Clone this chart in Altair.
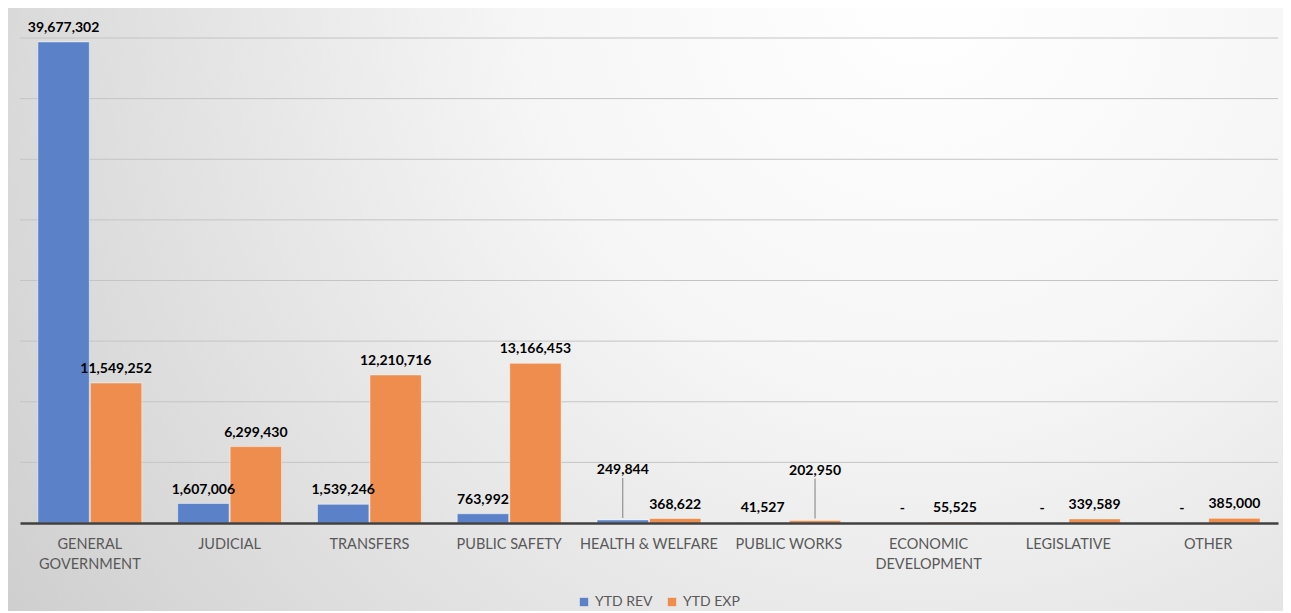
import altair as alt
import pandas as pd

categories = ["GENERAL GOVERNMENT", "JUDICIAL", "TRANSFERS", "PUBLIC SAFETY",
              "HEALTH & WELFARE", "PUBLIC WORKS", "ECONOMIC DEVELOPMENT",
              "LEGISLATIVE", "OTHER"]
ytd_rev = [39677302, 1607006, 1539246, 763992, 249844, 41527, 0, 0, 0]
ytd_exp = [11549252, 6299430, 12210716, 13166453, 368622, 202950, 55525, 339589, 385000]
series_names = ["YTD REV", "YTD EXP"]
series_colors = ["#5b82c9", "#ee8d4d"]
grid_values = [5000000, 10000000, 15000000, 20000000, 25000000, 30000000, 35000000, 40000000]

# labels placed higher with a leader line (as in the original)
LEADER = [("HEALTH & WELFARE", "YTD REV"), ("PUBLIC WORKS", "YTD EXP")]

rows = []
for c, r, e in zip(categories, ytd_rev, ytd_exp):
    rows.append({"category": c, "series": "YTD REV", "value": r})
    rows.append({"category": c, "series": "YTD EXP", "value": e})
df = pd.DataFrame(rows)
df["lifted"] = [(c, s) in LEADER for c, s in zip(df["category"], df["series"])]
grid_df = pd.DataFrame({"value": grid_values})

W, H = 1258, 485
PAD = {"left": 12, "top": 30, "right": 5, "bottom": 88}

bg = alt.Chart(alt.Data(values=[{"a": 1}])).mark_rect(
    color={
        "gradient": "radial",
        "x1": 0.72, "y1": 0.25, "r1": 0,
        "x2": 0.72, "y2": 0.25, "r2": 1.05,
        "stops": [
            {"offset": 0, "color": "#ffffff"},
            {"offset": 0.3, "color": "#f6f6f6"},
            {"offset": 1, "color": "#c2c2c2"},
        ],
    }
).encode(
    x=alt.value(-PAD["left"]), x2=alt.value(W + PAD["right"]),
    y=alt.value(-PAD["top"]), y2=alt.value(H + PAD["bottom"])
)

y_scale = alt.Scale(domain=[0, 40000000], nice=False)

grid = alt.Chart(grid_df).mark_rule(color="#c4c4c4", strokeWidth=1).encode(
    y=alt.Y("value:Q", scale=y_scale, axis=None),
    x=alt.value(0), x2=alt.value(W),
)

x_enc = alt.X(
    "category:N", sort=categories, title=None,
    scale=alt.Scale(paddingInner=0.257, paddingOuter=0.128),
    axis=alt.Axis(
        labelAngle=0, ticks=False, domainColor="#404040", domainWidth=2.5,
        labelColor="#595959", labelFontSize=14.5, labelFont="Lato",
        labelPadding=14, labelLineHeight=20, zindex=1,
        labelExpr="datum.label == 'GENERAL GOVERNMENT' ? ['GENERAL','GOVERNMENT'] : "
                  "datum.label == 'ECONOMIC DEVELOPMENT' ? ['ECONOMIC','DEVELOPMENT'] : datum.label",
    ),
)
xoff = alt.XOffset("series:N", sort=series_names, scale=alt.Scale(paddingInner=0.02))
y_enc = alt.Y("value:Q", title=None, scale=y_scale, axis=None)

base = alt.Chart(df).encode(x=x_enc, xOffset=xoff, y=y_enc)

bars = base.mark_bar(stroke="#ffffff", strokeOpacity=0.45, strokeWidth=1).encode(
    color=alt.Color(
        "series:N", sort=series_names,
        scale=alt.Scale(domain=series_names, range=series_colors),
        legend=alt.Legend(
            title=None, orient="none", direction="horizontal",
            legendX=557, legendY=557, symbolType="square", symbolSize=70,
            symbolStrokeWidth=0, labelFontSize=14, labelColor="#595959",
            labelFont="Lato", columnPadding=12, labelOffset=4, zindex=1,
        ),
    )
)

label_calc = "datum.value == 0 ? '-' : format(datum.value, ',')"

labels = base.transform_filter("!datum.lifted").transform_calculate(
    label=label_calc
).mark_text(baseline="bottom", dy=-7, font="Lato", fontWeight="bold",
            fontSize=14, color="#000000").encode(text="label:N")

lifted_labels = base.transform_filter("datum.lifted").transform_calculate(
    label=label_calc
).mark_text(baseline="bottom", dy=-43, font="Lato", fontWeight="bold",
            fontSize=14, color="#000000").encode(text="label:N")

leaders = base.transform_filter("datum.lifted").mark_rule(
    color="#7f7f7f", strokeWidth=1, yOffset=-2, y2Offset=-42
).encode(y2="value:Q")

chart = alt.layer(bg, grid, bars, leaders, labels, lifted_labels).properties(
    width=W, height=H,
    autosize=alt.AutoSizeParams(type="none"),
    padding=PAD,
).configure_view(stroke=None).configure(background="#ffffff")

chart.save("out.html", embed_options={"renderer": "svg", "actions": False})
